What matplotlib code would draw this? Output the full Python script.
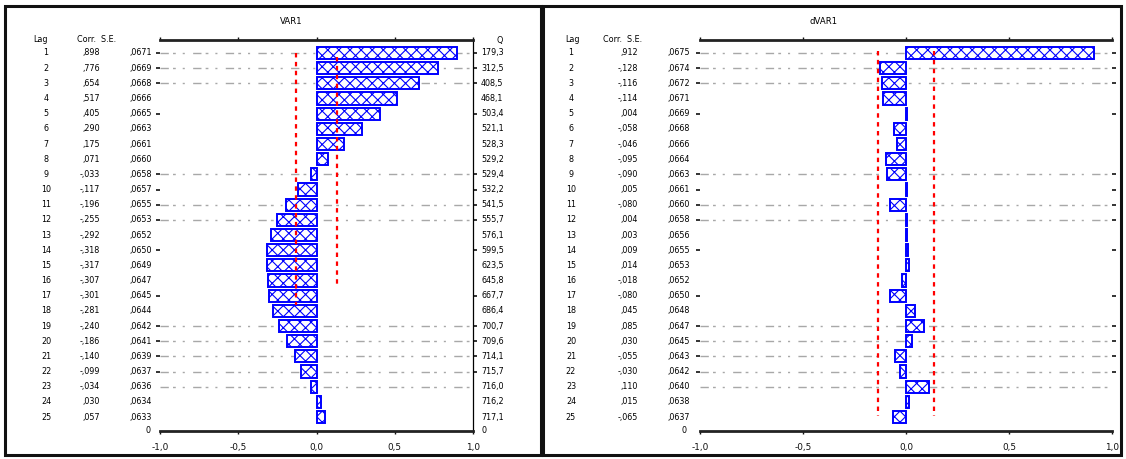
import matplotlib
matplotlib.use("Agg")
import matplotlib.pyplot as plt
from matplotlib.patches import Rectangle

# ---------------- data ----------------
lags = list(range(1, 26))

left_title = "VAR1"
left_corr = [0.898, 0.776, 0.654, 0.517, 0.405, 0.290, 0.175, 0.071, -0.033, -0.117,
             -0.196, -0.255, -0.292, -0.318, -0.317, -0.307, -0.301, -0.281, -0.240, -0.186,
             -0.140, -0.099, -0.034, 0.030, 0.057]
left_se = [0.0671, 0.0669, 0.0668, 0.0666, 0.0665, 0.0663, 0.0661, 0.0660, 0.0658, 0.0657,
           0.0655, 0.0653, 0.0652, 0.0650, 0.0649, 0.0647, 0.0645, 0.0644, 0.0642, 0.0641,
           0.0639, 0.0637, 0.0636, 0.0634, 0.0633]
left_q = [179.3, 312.5, 408.5, 468.1, 503.4, 521.1, 528.3, 529.2, 529.4, 532.2,
          541.5, 555.7, 576.1, 599.5, 623.5, 645.8, 667.7, 686.4, 700.7, 709.6,
          714.1, 715.7, 716.0, 716.2, 717.1]
left_conf = [-0.128, 0.128]

right_title = "dVAR1"
right_corr = [0.912, -0.128, -0.116, -0.114, 0.004, -0.058, -0.046, -0.095, -0.090, 0.005,
              -0.080, 0.004, 0.003, 0.009, 0.014, -0.018, -0.080, 0.045, 0.085, 0.030,
              -0.055, -0.030, 0.110, 0.015, -0.065]
right_se = [0.0675, 0.0674, 0.0672, 0.0671, 0.0669, 0.0668, 0.0666, 0.0664, 0.0663, 0.0661,
            0.0660, 0.0658, 0.0656, 0.0655, 0.0653, 0.0652, 0.0650, 0.0648, 0.0647, 0.0645,
            0.0643, 0.0642, 0.0640, 0.0638, 0.0637]
right_conf = [-0.135, 0.135]

x_ticks = [-1.0, -0.5, 0.0, 0.5, 1.0]
x_ticklabels = ["-1,0", "-0,5", "0,0", "0,5", "1,0"]

grid_rows = [1, 2, 3, 9, 11, 12, 19, 20, 21, 22, 23]
tick_rows = [1, 2, 3, 5, 9, 10, 11, 12, 14, 17, 19, 20, 21, 22]

# ---------------- helpers ----------------
W, H = 1126, 459
FS = 5.8
BLUE = "#0000ff"
plt.rcParams["hatch.linewidth"] = 0.8
plt.rcParams["font.family"] = ["DejaVu Sans"]


def fmt_corr(v):
    return f"{v:.3f}".replace("0.", ".", 1).replace(".", ",")


def fmt_se(v):
    return f"{v:.4f}".replace("0.", ".", 1).replace(".", ",")


def fmt_q(v):
    return f"{v:.1f}".replace(".", ",")


fig = plt.figure(figsize=(W / 100, H / 100), dpi=100)

# panel frames
for x0, x1 in [(5, 541), (543, 1121)]:
    fig.add_artist(Rectangle((x0 / W, (H - 455) / H), (x1 - x0) / W, (455 - 6) / H,
                             transform=fig.transFigure, fill=False, lw=2.2,
                             edgecolor="#111111"))

YTOP, YBOT = 0.143, 25.92
ax_top_px, ax_bot_px = 40, 431


def make_panel(px_left, px_right, corr, se, conf, conf_ext, title, title_x,
               lag_x, corr_x, se_x, head_lag_x, head_cs_x, zero_label_x,
               q=None, q_x=None, q_head_x=None, right_spine=False):
    ax = fig.add_axes([px_left / W, (H - ax_bot_px) / H,
                       (px_right - px_left) / W, (ax_bot_px - ax_top_px) / H])
    ax.set_xlim(-1.0, 1.0)
    ax.set_ylim(YBOT, YTOP)
    for r in grid_rows:
        ax.axhline(r, color="#a8a8a8", lw=1.0, dashes=(6, 3, 2, 5, 1.5, 6), zorder=0.5)
    ax.barh(lags, corr, height=0.8, color="white", edgecolor=BLUE, hatch="xxx",
            lw=1.4, zorder=2)
    for c, (y0, y1) in zip(conf, conf_ext):
        ax.plot([c, c], [y0, y1], color="#ff0000", lw=1.6, ls=(0, (2, 2)), zorder=3)
    for s in ["left", "right"]:
        ax.spines[s].set_visible(False)
    if right_spine:
        ax.spines["right"].set_visible(True)
        ax.spines["right"].set_linewidth(0.9)
    for s in ["top", "bottom"]:
        ax.spines[s].set_linewidth(2.0)
        ax.spines[s].set_color("#222222")
    ax.set_xticks(x_ticks)
    ax.set_xticklabels(x_ticklabels, fontsize=FS + 0.6)
    ax.tick_params(axis="x", length=2.5, width=1, top=True, pad=6, colors="#111111")
    ax.set_yticks(tick_rows)
    ax.set_yticklabels([])
    ax.tick_params(axis="y", length=3, width=1.2, left=True, right=True,
                   colors="#111111")
    fig.text(title_x / W, (H - 22) / H, title, fontsize=FS + 0.3, ha="center",
             va="center")
    tr = ("figure pixels", "data")
    ax.annotate("Lag", (head_lag_x, YTOP), xycoords=tr, fontsize=FS,
                ha="center", va="center", annotation_clip=False)
    ax.annotate("Corr.  S.E.", (head_cs_x, YTOP), xycoords=tr, fontsize=FS,
                ha="left", va="center", annotation_clip=False)
    for k, c, e in zip(lags, corr, se):
        ax.annotate(str(k), (lag_x, k), xycoords=tr, fontsize=FS, ha="center",
                    va="center", annotation_clip=False)
        ax.annotate(fmt_corr(c), (corr_x, k), xycoords=tr, fontsize=FS, ha="right",
                    va="center", annotation_clip=False)
        ax.annotate(fmt_se(e), (se_x, k), xycoords=tr, fontsize=FS, ha="right",
                    va="center", annotation_clip=False)
    ax.annotate("0", (zero_label_x, YBOT), xycoords=tr, fontsize=FS, ha="right",
                va="center", annotation_clip=False)
    if q is not None:
        ax.annotate("Q", (q_head_x, YTOP), xycoords=tr, fontsize=FS, ha="center",
                    va="center", annotation_clip=False)
        for k, v in zip(lags, q):
            ax.annotate(fmt_q(v), (q_x, k), xycoords=tr, fontsize=FS, ha="left",
                        va="center", annotation_clip=False)
        ax.annotate("0", (q_x, YBOT), xycoords=tr, fontsize=FS, ha="left",
                    va="center", annotation_clip=False)
    return ax


make_panel(160, 473, left_corr, left_se, left_conf, [(1.0, 17.6), (1.25, 16.5)],
           left_title, 291, 46, 100, 152, 40, 77, 151,
           q=left_q, q_x=481, q_head_x=500, right_spine=True)

make_panel(700, 1112, right_corr, right_se, right_conf, [(0.9, 24.9), (0.9, 24.9)],
           right_title, 824, 571, 638, 690, 572, 603, 686)

fig.savefig("out.png", dpi=100)
